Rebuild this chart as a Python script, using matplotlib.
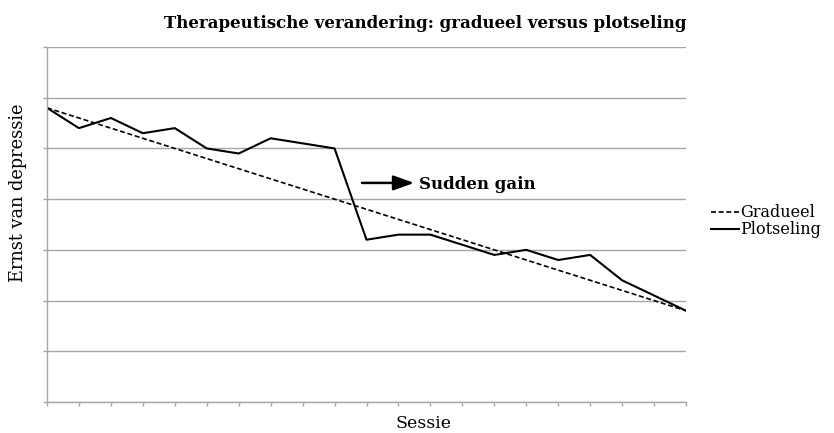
import matplotlib
matplotlib.use("Agg")
import matplotlib.pyplot as plt
import numpy as np

sessions = list(range(21))
gradueel = [29, 28, 27, 26, 25, 24, 23, 22, 21, 20, 19, 18, 17, 16, 15, 14, 13, 12, 11, 10, 9]
plotseling = [29, 27, 28, 26.5, 27, 25, 24.5, 26, 25.5, 25, 16, 16.5, 16.5, 15.5, 14.5, 15, 14, 14.5, 12, 10.5, 9]

title = "Therapeutische verandering: gradueel versus plotseling"
xlabel = "Sessie"
ylabel = "Ernst van depressie"
annot_text = "Sudden gain"

plt.rcParams['font.family'] = ['DejaVu Serif']

W, H = 834, 433
fig = plt.figure(figsize=(W / 100, H / 100), dpi=100)
ax = fig.add_axes([47 / W, 1 - 402 / H, (686 - 47) / W, (402 - 47) / H])

grid_c = "#a6a6a6"
ax.plot(sessions, gradueel, color="black", lw=1.2, ls=(0, (3, 1.6)), label="Gradueel")
ax.plot(sessions, plotseling, color="black", lw=1.5, label="Plotseling")

ax.set_xlim(0, 20)
ax.set_ylim(0, 35)
ax.set_yticks(np.arange(0, 36, 5))
ax.set_xticks(sessions)
ax.set_xticklabels([])
ax.set_yticklabels([])
ax.yaxis.grid(True, color=grid_c, lw=1)
ax.set_axisbelow(True)
for s in ["top", "right"]:
    ax.spines[s].set_visible(False)
for s in ["left", "bottom"]:
    ax.spines[s].set_color(grid_c)
    ax.spines[s].set_linewidth(1)
ax.tick_params(axis="both", direction="out", length=3, color=grid_c, width=1)

ax.annotate("", xy=(11.49, 21.6), xytext=(9.86, 21.6),
            arrowprops=dict(arrowstyle="-|>,head_length=1.25,head_width=0.45",
                            color="black", lw=1.8, shrinkA=0, shrinkB=0))
ax.text(11.64, 21.0, annot_text, fontsize=12, fontweight="bold", ha="left", va="baseline")

fig.text(425 / W, 1 - 28 / H, title, fontsize=12, fontweight="bold", ha="center", va="baseline")
fig.text(424 / W, 1 - 428 / H, xlabel, fontsize=12.5, ha="center", va="baseline")
fig.text(18 / W, 1 - 192.5 / H, ylabel, fontsize=12.8, ha="center", va="center", rotation=90)

fig.legend(loc="center left", bbox_to_anchor=(711 / W, 1 - 221.5 / H), frameon=False,
           fontsize=11.5, handlelength=1.75, handletextpad=0.1, labelspacing=0.0,
           borderpad=0, borderaxespad=0)

fig.savefig("out.png", dpi=100)
